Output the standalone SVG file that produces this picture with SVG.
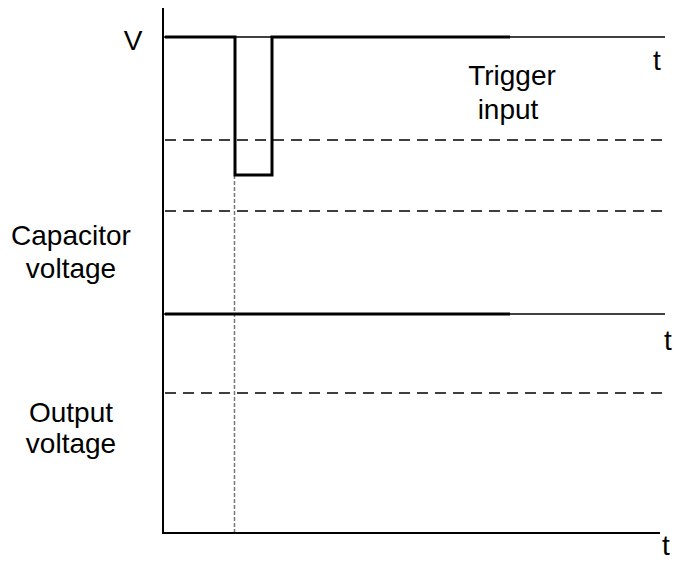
<svg xmlns="http://www.w3.org/2000/svg" width="676" height="562" viewBox="0 0 676 562">
<style>
.lbl{font-family:"Liberation Sans",Arial,sans-serif;font-size:28px;fill:#000}
.thick{stroke:#000;stroke-width:3;fill:none}
.thin{stroke:#000;stroke-width:1.5;fill:none}
.dash{stroke:#000;stroke-width:1.5;fill:none;stroke-dasharray:11 7}
.dot{stroke:#777;stroke-width:1.5;fill:none;stroke-dasharray:4 2}
</style>
<rect width="676" height="562" fill="#fff"/>
<g id="connectors">
<line class="dot" x1="234.5" y1="175" x2="234.5" y2="533"/>
<line class="thin" x1="163" y1="37" x2="665" y2="37"/>
<line class="dash" x1="165" y1="140" x2="665" y2="140"/>
<line class="dash" x1="165" y1="211" x2="665" y2="211"/>
<line class="dash" x1="165" y1="393" x2="665" y2="393"/>
<line class="thin" x1="163" y1="314" x2="665" y2="314"/>
<polyline class="thick" points="165,37 235,37 235,175 272,175 272,37 510,37"/>
<line class="thick" x1="165" y1="314" x2="510" y2="314"/>
<polyline class="thin" points="163,8 163,533 660,533" style="stroke-width:2"/>
</g>
<g id="labels">
<text class="lbl" x="133" y="50" text-anchor="middle">V</text>
<text class="lbl" x="653" y="70">t</text>
<text class="lbl" x="512" y="85" text-anchor="middle">Trigger</text>
<text class="lbl" x="508" y="119" text-anchor="middle">input</text>
<text class="lbl" x="71" y="245" text-anchor="middle">Capacitor</text>
<text class="lbl" x="71" y="278" text-anchor="middle">voltage</text>
<text class="lbl" x="664" y="350">t</text>
<text class="lbl" x="71" y="422" text-anchor="middle">Output</text>
<text class="lbl" x="71" y="453" text-anchor="middle">voltage</text>
<text class="lbl" x="662" y="555">t</text>
</g>
</svg>
